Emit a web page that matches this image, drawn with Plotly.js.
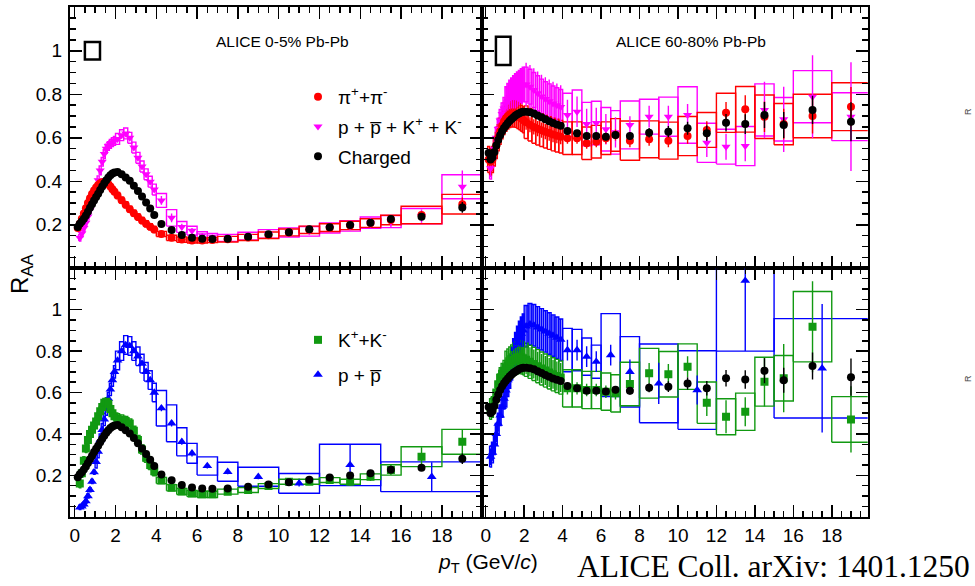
<!DOCTYPE html>
<html><head><meta charset="utf-8">
<script src="https://cdn.plot.ly/plotly-3.0.1.min.js"></script>
<style>html,body{margin:0;padding:0;background:#fff}</style>
</head><body><div id="chart" style="width:975px;height:586px"></div>
<script>
// ---------- bin edges (GeV/c) ----------
const edgesStd = [0.1,0.2,0.3,0.4,0.5,0.6,0.7,0.8,0.9,1.0,1.1,1.2,1.3,1.4,1.5,1.6,1.7,1.8,1.9,2.0,
  2.2,2.4,2.6,2.8,3.0,3.2,3.4,3.6,3.8,4.0,4.5,5.0,5.5,6.0,6.5,7.0,8,9,10,11,12,13,14,15,16,18,20];
const edgesP = [0.1,0.2,0.3,0.4,0.5,0.6,0.7,0.8,0.9,1.0,1.1,1.2,1.3,1.4,1.5,1.6,1.7,1.8,1.9,2.0,
  2.2,2.4,2.6,2.8,3.0,3.2,3.4,3.6,3.8,4.0,4.5,5.0,5.5,6,7,8,10,12,15,20];

// ---------- 0-5% ----------
const charged0005 = [0.190,0.205,0.215,0.228,0.243,0.260,0.278,0.295,0.312,0.328,0.343,0.360,0.376,0.391,0.405,0.418,0.428,0.436,0.441,
  0.443,0.432,0.418,0.402,0.380,0.355,0.330,0.303,0.275,0.245,
  0.204,0.176,0.153,0.141,0.136,0.135,
  0.136,0.145,0.156,0.166,0.179,0.189,0.199,0.210,0.227,
  0.237,0.280];
const charged0005Stat = [0.002,0.002,0.002,0.002,0.002,0.002,0.002,0.002,0.002,0.002,0.002,0.002,0.002,0.002,0.002,0.002,0.002,0.002,0.002,
  0.002,0.002,0.002,0.002,0.002,0.002,0.002,0.002,0.002,0.002,
  0.003,0.003,0.003,0.003,0.003,0.003,
  0.004,0.004,0.005,0.005,0.006,0.007,0.008,0.010,0.012,
  0.015,0.025];
const pion0005 = [0.185,0.205,0.228,0.252,0.276,0.300,0.322,0.342,0.358,0.372,0.383,0.391,0.396,0.397,0.393,0.386,0.376,0.364,0.352,
  0.335,0.313,0.292,0.272,0.253,0.236,0.220,0.205,0.191,0.178,
  0.158,0.140,0.132,0.128,0.128,0.130,
  0.134,0.142,0.152,0.165,0.177,0.187,0.197,0.208,0.222,
  0.245,0.295];
const pion0005Stat = [0.002,0.002,0.002,0.002,0.002,0.002,0.002,0.002,0.002,0.002,0.002,0.002,0.002,0.002,0.002,0.002,0.002,0.002,0.002,
  0.002,0.002,0.002,0.002,0.002,0.002,0.002,0.002,0.002,0.002,
  0.003,0.003,0.003,0.003,0.003,0.003,
  0.004,0.005,0.006,0.007,0.008,0.009,0.010,0.012,0.014,
  0.018,0.030];
const pion0005Sys = [0.012,0.012,0.012,0.012,0.012,0.012,0.012,0.012,0.012,0.012,0.012,0.012,0.012,0.012,0.012,0.012,0.012,0.012,0.012,
  0.014,0.014,0.014,0.014,0.014,0.014,0.014,0.014,0.014,0.014,
  0.012,0.012,0.012,0.012,0.012,0.012,
  0.013,0.014,0.015,0.016,0.017,0.018,0.019,0.020,0.022,
  0.040,0.045];
const ppkk0005 = [null,0.140,0.160,0.185,0.210,0.238,0.268,0.298,0.330,0.365,0.405,0.450,0.490,0.525,0.550,0.562,0.572,0.580,0.586,
  0.595,0.612,0.620,0.600,0.555,0.508,0.468,0.432,0.398,0.362,
  0.312,0.232,0.190,0.173,0.152,0.145,
  0.140,0.148,0.158,0.165,0.170,0.185,0.195,0.210,0.215,
  0.240,0.375];
const ppkk0005Stat = [0,0.004,0.004,0.004,0.004,0.004,0.004,0.004,0.004,0.004,0.004,0.004,0.004,0.004,0.004,0.004,0.004,0.004,0.004,
  0.005,0.005,0.005,0.005,0.005,0.005,0.005,0.005,0.005,0.005,
  0.020,0.020,0.015,0.012,0.010,0.010,
  0.008,0.009,0.010,0.012,0.014,0.016,0.020,0.022,0.025,
  0.030,0.075];
const ppkk0005Sys = [0,0.015,0.015,0.015,0.015,0.015,0.015,0.015,0.015,0.020,0.020,0.020,0.020,0.020,0.020,0.020,0.020,0.020,0.020,
  0.025,0.025,0.025,0.025,0.025,0.025,0.025,0.025,0.025,0.025,
  0.032,0.038,0.025,0.020,0.016,0.015,
  0.016,0.018,0.020,0.021,0.022,0.023,0.024,0.026,0.028,
  0.035,0.055];
const kaon0005 = [null,0.160,0.210,0.270,0.330,0.370,0.400,0.420,0.440,0.460,0.485,0.510,0.530,0.550,0.555,0.545,0.520,0.500,0.485,
  0.475,0.470,0.462,0.450,0.415,0.370,0.325,0.285,0.250,0.220,
  0.175,0.140,0.122,0.112,0.108,0.108,
  0.121,0.129,0.148,0.169,0.169,0.177,0.169,0.193,0.226,
  0.290,0.362];
const kaon0005Stat = [0,0.003,0.003,0.003,0.003,0.003,0.003,0.003,0.003,0.003,0.003,0.003,0.003,0.003,0.003,0.003,0.003,0.003,0.003,
  0.004,0.004,0.004,0.004,0.004,0.004,0.004,0.004,0.004,0.004,
  0.005,0.005,0.005,0.005,0.005,0.005,
  0.006,0.007,0.008,0.010,0.012,0.014,0.020,0.020,0.025,
  0.045,0.060];
const kaon0005Sys = [0,0.020,0.020,0.020,0.020,0.020,0.020,0.020,0.020,0.020,0.020,0.020,0.020,0.020,0.020,0.020,0.020,0.020,0.020,
  0.022,0.022,0.022,0.022,0.022,0.022,0.022,0.022,0.022,0.022,
  0.015,0.015,0.015,0.015,0.015,0.015,
  0.012,0.012,0.012,0.012,0.012,0.012,0.012,0.014,0.025,
  0.048,0.060];
const proton0005 = [null,0.045,0.050,0.060,0.075,0.100,0.130,0.170,0.215,0.265,0.315,0.370,0.420,0.470,0.520,0.570,0.615,0.660,0.700,
  0.755,0.800,0.830,0.825,0.800,0.775,0.740,0.700,0.660,0.600,
  0.524,0.451,0.362,0.306,0.245,0.217,0.193,0.161,0.250,0.193];
const proton0005Stat = [0,0.003,0.003,0.003,0.003,0.003,0.003,0.003,0.003,0.003,0.003,0.003,0.003,0.003,0.003,0.003,0.003,0.003,0.003,
  0.006,0.006,0.006,0.006,0.006,0.006,0.006,0.006,0.006,0.006,
  0.015,0.015,0.015,0.015,0.012,0.012,0.012,0.015,0.100,0.070];
const proton0005Sys = [0,0.010,0.010,0.010,0.010,0.010,0.010,0.010,0.010,0.030,0.030,0.030,0.030,0.030,0.030,0.030,0.030,0.030,0.030,
  0.045,0.045,0.045,0.045,0.045,0.045,0.045,0.045,0.045,0.045,
  0.086,0.089,0.068,0.048,0.044,0.046,0.046,0.048,0.100,0.072];

// ---------- 60-80% ----------
const charged6080 = [0.530,0.500,0.510,0.535,0.565,0.590,0.612,0.630,0.645,0.657,0.668,0.678,0.687,0.695,0.702,0.708,0.713,0.717,0.720,
  0.720,0.717,0.712,0.703,0.694,0.685,0.676,0.668,0.661,0.655,
  0.631,0.621,0.608,0.608,0.605,0.613,
  0.608,0.623,0.628,0.644,0.621,0.669,0.663,0.705,0.659,
  0.728,0.674];
const charged6080Stat = [0.008,0.008,0.008,0.008,0.008,0.008,0.008,0.008,0.008,0.008,0.008,0.008,0.008,0.008,0.008,0.008,0.008,0.008,0.008,
  0.010,0.010,0.010,0.010,0.010,0.010,0.010,0.010,0.010,0.010,
  0.012,0.013,0.014,0.015,0.016,0.017,
  0.018,0.022,0.026,0.030,0.035,0.040,0.045,0.060,0.060,
  0.065,0.090];
const pion6080 = [0.500,0.490,0.500,0.530,0.565,0.600,0.630,0.655,0.675,0.690,0.700,0.707,0.710,0.710,0.708,0.703,0.697,0.690,0.683,
  0.672,0.660,0.650,0.642,0.635,0.628,0.622,0.615,0.610,0.605,
  0.598,0.598,0.575,0.582,0.598,0.613,
  0.587,0.593,0.587,0.608,0.636,0.715,0.731,0.697,0.663,
  0.700,0.743];
const pion6080Stat = [0.015,0.015,0.015,0.015,0.015,0.015,0.015,0.015,0.015,0.025,0.025,0.025,0.025,0.025,0.025,0.025,0.025,0.025,0.025,
  0.035,0.035,0.035,0.035,0.035,0.035,0.035,0.035,0.035,0.035,
  0.025,0.025,0.025,0.025,0.025,0.025,
  0.030,0.030,0.030,0.035,0.040,0.050,0.065,0.070,0.070,
  0.080,0.090];
const pion6080Sys = [0.060,0.060,0.060,0.060,0.060,0.060,0.060,0.060,0.060,0.060,0.060,0.060,0.060,0.060,0.060,0.060,0.060,0.060,0.060,
  0.075,0.075,0.075,0.075,0.075,0.075,0.075,0.075,0.075,0.075,
  0.075,0.075,0.075,0.075,0.075,0.075,
  0.090,0.085,0.085,0.090,0.080,0.090,0.105,0.100,0.095,
  0.100,0.110];
const ppkk6080 = [null,0.460,0.500,0.550,0.600,0.640,0.680,0.710,0.735,0.755,0.770,0.785,0.795,0.805,0.815,0.823,0.830,0.838,0.845,
  0.845,0.835,0.820,0.805,0.790,0.778,0.768,0.758,0.750,0.742,
  0.705,0.720,0.663,0.668,0.639,0.625,
  0.659,0.697,0.697,0.705,0.577,0.559,0.562,0.728,0.685,
  0.789,0.697];
const ppkk6080Stat = [0,0.040,0.040,0.040,0.040,0.040,0.040,0.040,0.040,0.080,0.080,0.080,0.080,0.080,0.080,0.080,0.080,0.080,0.080,
  0.100,0.100,0.100,0.100,0.100,0.100,0.100,0.100,0.100,0.100,
  0.070,0.070,0.070,0.070,0.070,0.070,
  0.040,0.050,0.050,0.050,0.065,0.060,0.070,0.130,0.150,
  0.190,0.250];
const ppkk6080Sys = [0,0.050,0.050,0.050,0.050,0.050,0.050,0.050,0.050,0.080,0.080,0.080,0.080,0.080,0.080,0.080,0.080,0.080,0.080,
  0.080,0.080,0.080,0.080,0.080,0.080,0.080,0.080,0.080,0.080,
  0.100,0.100,0.100,0.100,0.100,0.100,
  0.110,0.080,0.090,0.130,0.090,0.080,0.090,0.120,0.100,
  0.120,0.110];
const kaon6080 = [null,0.520,0.530,0.560,0.600,0.640,0.670,0.690,0.705,0.720,0.730,0.740,0.750,0.758,0.765,0.770,0.772,0.770,0.765,
  0.758,0.748,0.738,0.727,0.716,0.706,0.697,0.688,0.680,0.672,
  0.620,0.620,0.612,0.612,0.604,0.596,
  0.641,0.693,0.688,0.725,0.551,0.483,0.507,0.652,0.669,
  0.918,0.470];
const kaon6080Stat = [0,0.030,0.030,0.030,0.030,0.030,0.030,0.030,0.030,0.050,0.050,0.050,0.050,0.050,0.050,0.050,0.050,0.050,0.050,
  0.070,0.070,0.070,0.070,0.070,0.070,0.070,0.070,0.070,0.070,
  0.030,0.030,0.030,0.030,0.030,0.030,
  0.050,0.050,0.050,0.050,0.065,0.080,0.070,0.120,0.165,
  0.220,0.160];
const kaon6080Sys = [0,0.050,0.050,0.050,0.050,0.050,0.050,0.050,0.050,0.080,0.080,0.080,0.080,0.080,0.080,0.080,0.080,0.080,0.080,
  0.080,0.080,0.080,0.080,0.080,0.080,0.080,0.080,0.080,0.080,
  0.090,0.090,0.090,0.090,0.090,0.090,
  0.105,0.120,0.110,0.110,0.100,0.087,0.090,0.118,0.110,
  0.170,0.110];
const proton6080 = [null,0.290,0.310,0.350,0.400,0.450,0.490,0.530,0.570,0.610,0.660,0.700,0.740,0.780,0.810,0.840,0.865,0.885,0.900,
  0.920,0.930,0.925,0.915,0.905,0.895,0.885,0.875,0.865,0.855,
  0.805,0.805,0.773,0.749,0.781,0.700,0.644,0.612,1.140,0.717];
const proton6080Stat = [0,0.040,0.040,0.040,0.040,0.040,0.040,0.040,0.040,0.080,0.080,0.080,0.080,0.080,0.080,0.080,0.080,0.080,0.080,
  0.100,0.100,0.100,0.100,0.100,0.100,0.100,0.100,0.100,0.100,
  0.050,0.050,0.050,0.050,0.050,0.060,0.100,0.070,0.340,0.310];
const proton6080Sys = [0,0.050,0.050,0.050,0.050,0.050,0.050,0.050,0.050,0.080,0.080,0.080,0.080,0.080,0.080,0.080,0.080,0.080,0.080,
  0.100,0.100,0.100,0.100,0.100,0.100,0.100,0.100,0.100,0.100,
  0.105,0.100,0.090,0.080,0.200,0.170,0.190,0.190,0.340,0.240];

// normalisation uncertainty at R_AA = 1 (0-5%, 60-80%)
const normUnc = [0.04, 0.065];

// legend / label texts
const labels = {
  pion: 'π<sup>+</sup>+π<sup>-</sup>',
  ppkk: 'p + p\u0305 + K<sup>+</sup> + K<sup>-</sup>',
  charged: 'Charged',
  kaon: 'K<sup>+</sup>+K<sup>-</sup>',
  proton: 'p + p\u0305'
};
const panelTitles = ['ALICE 0-5% Pb-Pb', 'ALICE 60-80% Pb-Pb'];
const xTicks = [0,2,4,6,8,10,12,14,16,18];
const yTicks = [0.2,0.4,0.6,0.8,1];

// ---------- helpers ----------
function bins(edges){const c=[],h=[];for(let i=0;i<edges.length-1;i++){c.push((edges[i]+edges[i+1])/2);h.push((edges[i+1]-edges[i])/2);}return {c,h};}
const bS = bins(edgesStd), bP = bins(edgesP);

const COL = {pion:'#ff0000', ppkk:'#ff00ff', charged:'#000000', kaon:'#119911', proton:'#0000ff'};
const SYM = {pion:'circle', ppkk:'triangle-down', charged:'circle', kaon:'square', proton:'triangle-up'};
const SIZE = {pion:8, ppkk:8, charged:8, kaon:8, proton:8.5};

function boxTrace(b, y, sys, key, xa, ya){
  const X=[],Y=[];
  for(let i=0;i<y.length;i++){
    if(y[i]===null||!sys[i]) continue;
    const x0=b.c[i]-b.h[i], x1=b.c[i]+b.h[i], y0=y[i]-sys[i], y1=y[i]+sys[i];
    X.push(x0,x1,x1,x0,x0,null); Y.push(y0,y0,y1,y1,y0,null);
  }
  return {type:'scatter',mode:'lines',x:X,y:Y,xaxis:xa,yaxis:ya,line:{color:COL[key],width:1.4},
          showlegend:false,hoverinfo:'skip',connectgaps:false};
}
function ptTrace(b, y, stat, key, xa, ya, legend){
  const t = {type:'scatter',mode:'markers',x:b.c,y:y,xaxis:xa,yaxis:ya,name:labels[key],
    marker:{symbol:SYM[key],size:SIZE[key],color:COL[key],line:{width:0}},
    error_y:{type:'data',array:stat,visible:true,width:0,thickness:1.4,color:COL[key]},
    showlegend:!!legend};
  if(legend){t.legend=legend; t.legendgroup=key; t.legendrank={pion:1,ppkk:2,charged:3,kaon:1,proton:2}[key];}
  return t;
}

const data = [
  // top-left 0-5%
  boxTrace(bS, ppkk0005, ppkk0005Sys, 'ppkk','x','y'),
  boxTrace(bS, pion0005, pion0005Sys, 'pion','x','y'),
  ptTrace(bS, ppkk0005, ppkk0005Stat, 'ppkk','x','y','legend'),
  ptTrace(bS, pion0005, pion0005Stat, 'pion','x','y','legend'),
  ptTrace(bS, charged0005, charged0005Stat, 'charged','x','y','legend'),
  // top-right 60-80%
  boxTrace(bS, ppkk6080, ppkk6080Sys, 'ppkk','x2','y2'),
  boxTrace(bS, pion6080, pion6080Sys, 'pion','x2','y2'),
  ptTrace(bS, ppkk6080, ppkk6080Stat, 'ppkk','x2','y2'),
  ptTrace(bS, pion6080, pion6080Stat, 'pion','x2','y2'),
  ptTrace(bS, charged6080, charged6080Stat, 'charged','x2','y2'),
  // bottom-left 0-5%
  boxTrace(bP, proton0005, proton0005Sys, 'proton','x3','y3'),
  boxTrace(bS, kaon0005, kaon0005Sys, 'kaon','x3','y3'),
  ptTrace(bP, proton0005, proton0005Stat, 'proton','x3','y3','legend2'),
  ptTrace(bS, kaon0005, kaon0005Stat, 'kaon','x3','y3','legend2'),
  ptTrace(bS, charged0005, charged0005Stat, 'charged','x3','y3'),
  // bottom-right 60-80%
  boxTrace(bP, proton6080, proton6080Sys, 'proton','x4','y4'),
  boxTrace(bS, kaon6080, kaon6080Sys, 'kaon','x4','y4'),
  ptTrace(bP, proton6080, proton6080Stat, 'proton','x4','y4'),
  ptTrace(bS, kaon6080, kaon6080Stat, 'kaon','x4','y4'),
  ptTrace(bS, charged6080, charged6080Stat, 'charged','x4','y4')
];

const FONT = '"Liberation Sans Narrow", "Arial Narrow", "Liberation Sans", Arial, sans-serif';
const W=975, H=586;
const xL=[70/W, 481.7/W], xR=[481.7/W, 867.7/W];
const yT=[1-268.3/H, 1-7.3/H], yB=[1-516.7/H, 1-268.3/H];

function xAxis(domain, range, anchor, showLabels){
  return {domain, range, anchor, showline:true, linewidth:2, linecolor:'#000', mirror:'allticks',
    ticks:'inside', ticklen:12, tickwidth:1.5, tickcolor:'#000', tickmode:'array', tickvals:xTicks,
    ticktext:xTicks.map(String), showticklabels:showLabels, ticklabelstandoff:0,
    tickfont:{family:FONT,size:19,color:'#000'}, showgrid:false, zeroline:false, fixedrange:true,
    minor:{ticks:'inside', ticklen:6, tickwidth:1.5, tickcolor:'#000', tick0:0, dtick:0.5, showgrid:false}};
}
function yAxis(domain, anchor, showLabels){
  return {domain, range:[0,1.2], anchor, showline:true, linewidth:2, linecolor:'#000', mirror:'allticks',
    ticks:'inside', ticklen:12, tickwidth:1.5, tickcolor:'#000', tickmode:'array', tickvals:yTicks,
    ticktext:yTicks.map(String), showticklabels:showLabels, ticklabelstandoff:2,
    tickfont:{family:FONT,size:19,color:'#000'}, showgrid:false, zeroline:false, fixedrange:true,
    minor:{ticks:'inside', ticklen:6, tickwidth:1.5, tickcolor:'#000', tick0:0, dtick:0.05, showgrid:false}};
}

const layout = {
  width:W, height:H, margin:{l:0,r:0,t:0,b:0}, paper_bgcolor:'#fff', plot_bgcolor:'#fff',
  font:{family:FONT,color:'#000'}, showlegend:true,
  xaxis: xAxis(xL,[-0.23,19.95],'y',false),
  xaxis2: xAxis(xR,[-0.21,19.87],'y2',false),
  xaxis3: xAxis(xL,[-0.23,19.95],'y3',true),
  xaxis4: xAxis(xR,[-0.21,19.87],'y4',true),
  yaxis: yAxis(yT,'x',true),
  yaxis2: yAxis(yT,'x2',false),
  yaxis3: yAxis(yB,'x3',true),
  yaxis4: yAxis(yB,'x4',false),
  legend:{x:298/W, y:1-78/H, xanchor:'left', yanchor:'top', bgcolor:'rgba(0,0,0,0)', borderwidth:0,
    font:{family:FONT,size:19,color:'#000'}, traceorder:'grouped', tracegroupgap:2, itemclick:false},
  legend2:{x:298/W, y:1-321/H, xanchor:'left', yanchor:'top', bgcolor:'rgba(0,0,0,0)', borderwidth:0,
    font:{family:FONT,size:19,color:'#000'}, traceorder:'grouped', tracegroupgap:7, itemclick:false},
  shapes:[
    {type:'rect', xref:'x', yref:'y', x0:0.5, x1:1.24, y0:1-normUnc[0], y1:1+normUnc[0], line:{color:'#000',width:2.5}},
    {type:'rect', xref:'x2', yref:'y2', x0:0.53, x1:1.29, y0:1-normUnc[1], y1:1+normUnc[1], line:{color:'#000',width:2.5}}
  ],
  annotations:[
    {xref:'paper',yref:'paper',x:282/W,y:1-41.7/H,text:panelTitles[0],showarrow:false,xanchor:'center',yanchor:'middle',font:{family:FONT,size:15.5,color:'#000'}},
    {xref:'paper',yref:'paper',x:691/W,y:1-41.7/H,text:panelTitles[1],showarrow:false,xanchor:'center',yanchor:'middle',font:{family:FONT,size:15.5,color:'#000'}},
    {xref:'paper',yref:'paper',x:21/W,y:1-274/H,text:'R<sub>AA</sub>',textangle:-90,showarrow:false,xanchor:'center',yanchor:'middle',font:{family:FONT,size:24,color:'#000'}},
    {xref:'paper',yref:'paper',x:488/W,y:1-563/H,text:'<i>p</i><sub>T</sub> (GeV/<i>c</i>)',showarrow:false,xanchor:'center',yanchor:'middle',font:{family:FONT,size:21,color:'#000'}},
    {xref:'paper',yref:'paper',x:575/W,y:1-566/H,text:'ALICE Coll. arXiv: 1401.1250',showarrow:false,xanchor:'left',yanchor:'middle',font:{family:'"Liberation Serif", "Times New Roman", serif',size:31.5,color:'#000'}},
    {xref:'paper',yref:'paper',x:968/W,y:1-112/H,text:'R',textangle:-90,showarrow:false,xanchor:'center',yanchor:'middle',font:{family:FONT,size:9,color:'#444'}},
    {xref:'paper',yref:'paper',x:968/W,y:1-379/H,text:'R',textangle:-90,showarrow:false,xanchor:'center',yanchor:'middle',font:{family:FONT,size:9,color:'#444'}}
  ]
};

Plotly.newPlot('chart', data, layout, {staticPlot:true, displayModeBar:false});
</script>
</body></html>
